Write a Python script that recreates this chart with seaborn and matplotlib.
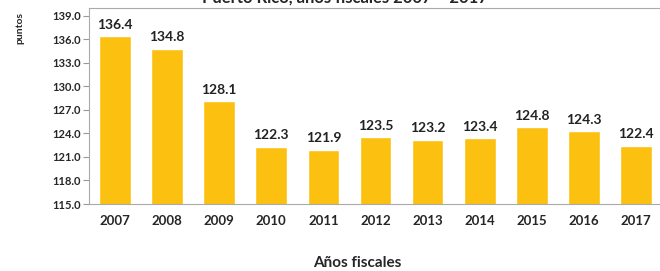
import pandas as pd
import numpy as np
from matplotlib import pyplot as plt
import seaborn as sns

years = ['2007', '2008', '2009', '2010', '2011', '2012', '2013', '2014', '2015', '2016', '2017']
values = [136.4, 134.8, 128.1, 122.3, 121.9, 123.5, 123.2, 123.4, 124.8, 124.3, 122.4]
title = 'Puerto Rico, años fiscales 2007 – 2017'

df = pd.DataFrame({'year': years, 'value': values})

sns.set_style('white')
plt.rcParams['font.family'] = ['Lato', 'DejaVu Sans']

fig = plt.figure(figsize=(6.6, 2.71), dpi=100)
ax = fig.add_axes([89 / 660, 67 / 271, 573 / 660, 196 / 271])

sns.barplot(data=df, x='year', y='value', color='#FCC010', saturation=1, width=0.61, ax=ax)

ax.set_ylim(115, 140)
ax.set_xlim(-0.5, len(years) - 0.5)
ax.set_yticks(np.arange(115, 140, 3))
ax.set_yticklabels([f'{v:.1f}' for v in np.arange(115, 140, 3)], fontsize=8, fontweight='bold')
ax.set_xticks(range(len(years)))
ax.set_xticklabels(years, fontsize=9.5, fontweight='bold')
ax.set_xticks(np.arange(-0.5, len(years), 1), minor=True)
ax.tick_params(axis='x', which='major', length=0, pad=8)
ax.tick_params(axis='x', which='minor', length=4, color='#999999', direction='out')
ax.tick_params(axis='y', length=4, color='#999999', direction='out', pad=2, left=True)

for s in ['left', 'bottom', 'top']:
    ax.spines[s].set_color('#aaaaaa')
    ax.spines[s].set_linewidth(0.8)
ax.spines['right'].set_visible(False)

# value labels over the bars
for i, v in enumerate(values):
    ax.annotate(f'{v:.1f}', (i, v), xytext=(0, 4), textcoords='offset points',
                ha='center', va='bottom', fontsize=10, fontweight='bold', color='#222222')

ax.set_xlabel('')
ax.set_ylabel('')
fig.text(20 / 660, 1 - 28 / 271, 'puntos', rotation=90, ha='center', va='center',
         fontsize=7.5, fontweight='bold')
fig.text(357 / 660, 8 / 271, 'Años fiscales', ha='center', va='center',
         fontsize=11, fontweight='bold')
# title is clipped by the top edge, like in the source image
fig.text(345 / 660, 1 - 3 / 271, title, ha='center', va='baseline',
         fontsize=12, fontweight='bold')

fig.savefig('out.png', dpi=100)
